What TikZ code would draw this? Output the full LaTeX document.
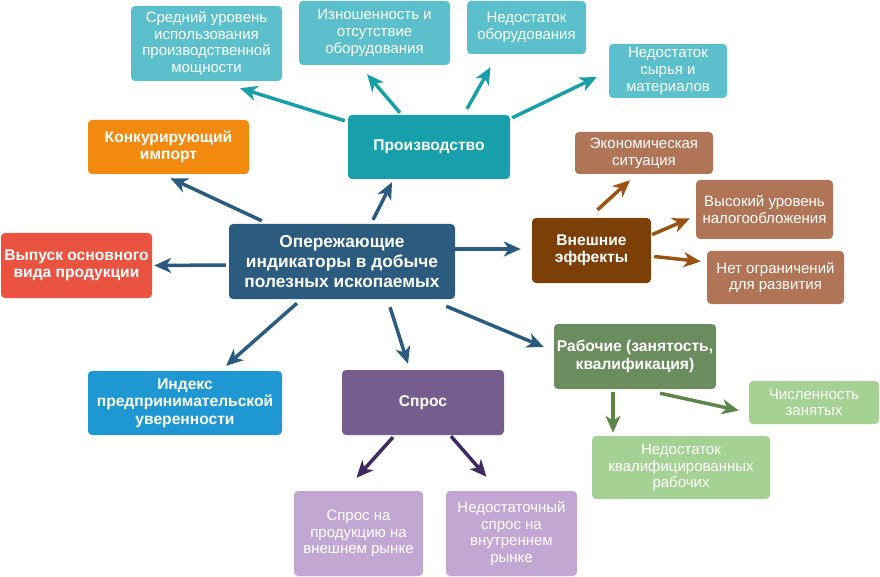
\documentclass[tikz,border=0pt]{standalone}
\usepackage{fontspec}
\setmainfont{Liberation Sans}
\usetikzlibrary{arrows.meta}
\definecolor{tealL}{HTML}{5BC0CB}
\definecolor{tealD}{HTML}{17A0AC}
\definecolor{tealA}{HTML}{1A9FA9}
\definecolor{orng}{HTML}{F28A0F}
\definecolor{navy}{HTML}{2C5B80}
\definecolor{redb}{HTML}{E9533F}
\definecolor{blueb}{HTML}{1E97D3}
\definecolor{purD}{HTML}{765D8E}
\definecolor{purL}{HTML}{C2A7D2}
\definecolor{purA}{HTML}{3E2960}
\definecolor{grnD}{HTML}{6B8C5E}
\definecolor{grnL}{HTML}{A6D195}
\definecolor{grnA}{HTML}{5D8548}
\definecolor{brnD}{HTML}{7D3F08}
\definecolor{brnL}{HTML}{B07556}
\definecolor{brnA}{HTML}{9B5313}
\tikzset{
  box/.style={rectangle, rounded corners=4pt, inner sep=0pt, align=center, text=white},
  lt/.style={box, font=\fontsize{15}{16.8}\selectfont},
  bd/.style={box, font=\bfseries\fontsize{15.6}{17.5}\selectfont},
  arr/.style={line width=3.5pt, -{Stealth[length=17pt,width=15pt,inset=5pt]}},
}
\begin{document}
\begin{tikzpicture}[x=1pt,y=-1pt]
\useasboundingbox (0,0) rectangle (880,577);
% nodes
\node[lt, fill=tealL, minimum width=151pt, minimum height=75pt] (sred) at (206.5,43.5) {Средний уровень\\использования\\производственной\\мощности};
\node[lt, fill=tealL, minimum width=151pt, minimum height=64pt] (iznos) at (374.5,33) {Изношенность и\\отсутствие\\оборудования};
\node[lt, fill=tealL, minimum width=119pt, minimum height=53pt] (nedob) at (526.5,27.5) {Недостаток\\оборудования};
\node[lt, fill=tealL, minimum width=118pt, minimum height=54pt] (syr) at (668,71) {Недостаток\\сырья и\\материалов};
\node[bd, fill=tealD, minimum width=162pt, minimum height=64pt] (proizv) at (429,147) {Производство};
\node[bd, fill=orng, minimum width=161pt, minimum height=54pt] (konk) at (168.5,147) {Конкурирующий\\импорт};
\node[box, fill=navy, minimum width=226pt, minimum height=75pt, font=\bfseries\fontsize{17.3}{20.3}\selectfont] (cen) at (342,261.5) {Опережающие\\индикаторы в добыче\\полезных ископаемых};
\node[bd, fill=redb, minimum width=151pt, minimum height=65pt] (vyp) at (76.5,265.5) {Выпуск основного\\вида продукции};
\node[bd, fill=blueb, minimum width=194pt, minimum height=64pt] (ind) at (185,403) {Индекс\\предпринимательской\\уверенности};
\node[bd, fill=purD, minimum width=162pt, minimum height=65pt] (spros) at (423,402.5) {Спрос};
\node[lt, fill=purL, minimum width=129pt, minimum height=85pt] (sprvn) at (358.5,533.5) {Спрос на\\продукцию на\\внешнем рынке};
\node[lt, fill=purL, minimum width=131pt, minimum height=85pt] (nedspr) at (511.5,533.5) {Недостаточный\\спрос на\\внутреннем\\рынке};
\node[bd, fill=grnD, minimum width=162pt, minimum height=65pt] (rab) at (635,356.5) {Рабочие (занятость,\\квалификация)};
\node[lt, fill=grnL, minimum width=130pt, minimum height=43pt] (chisl) at (814,402.5) {Численность\\занятых};
\node[lt, fill=grnL, minimum width=178pt, minimum height=63pt] (nedkv) at (681,467.5) {Недостаток\\квалифицированных\\рабочих};
\node[bd, fill=brnD, minimum width=119pt, minimum height=65pt] (vnesh) at (591.5,250.5) {Внешние\\эффекты};
\node[lt, fill=brnL, minimum width=138pt, minimum height=42pt] (ekon) at (644,153) {Экономическая\\ситуация};
\node[lt, fill=brnL, minimum width=137pt, minimum height=59pt] (vys) at (764.5,209.5) {Высокий уровень\\налогообложения};
\node[lt, fill=brnL, minimum width=137pt, minimum height=53pt] (net) at (775.5,277.5) {Нет ограничений\\для развития};
% arrows from centre
\draw[arr, navy] ([shift={(31,-4)}]cen.north) -- ([shift={(-37,3)}]proizv.south);
\draw[arr, navy] ([shift={(33,-3)}]cen.north west) -- ([shift={(2,4)}]konk.south);
\draw[arr, navy] ([shift={(-3,3.5)}]cen.west) -- ([shift={(2,0)}]vyp.east);
\draw[arr, navy] ([shift={(-45,4)}]cen.south) -- ([shift={(41,-5)}]ind.north);
\draw[arr, navy] ([shift={(48,8)}]cen.south) -- ([shift={(-15,-6)}]spros.north);
\draw[arr, navy] ([shift={(-9,7)}]cen.south east) -- ([shift={(-10,-9.5)}]rab.west);
\draw[arr, navy] ([shift={(0,-12.5)}]cen.east) -- ([shift={(-11,-1.5)}]vnesh.west);
% production arrows
\draw[arr, tealA] ([shift={(-3,6)}]proizv.north west) -- ([shift={(33.5,7)}]sred.south);
\draw[arr, tealA] ([shift={(-29,-2)}]proizv.north) -- ([shift={(-7.5,9)}]iznos.south);
\draw[arr, tealA] ([shift={(38,-6)}]proizv.north) -- ([shift={(-36,13)}]nedob.south);
\draw[arr, tealA] ([shift={(2,3)}]proizv.north east) -- ([shift={(-12,6)}]syr.west);
% external effects arrows
\draw[arr, brnA] ([shift={(6,-8)}]vnesh.north) -- ([shift={(-14,6)}]ekon.south);
\draw[arr, brnA] ([shift={(1,-16)}]vnesh.east) -- ([shift={(-6,9)}]vys.west);
\draw[arr, brnA] ([shift={(3,6)}]vnesh.east) -- ([shift={(-6,-16)}]net.west);
% demand arrows
\draw[arr, purA] ([shift={(-30,2)}]spros.south) -- ([shift={(-2,-13)}]sprvn.north);
\draw[arr, purA] ([shift={(28,1)}]spros.south) -- ([shift={(-25,-14)}]nedspr.north);
% workers arrows
\draw[arr, grnA] ([shift={(-22,3)}]rab.south) -- ([shift={(-68,-3)}]nedkv.north);
\draw[arr, grnA] ([shift={(25,4)}]rab.south) -- ([shift={(-10,8)}]chisl.west);
\end{tikzpicture}
\end{document}
